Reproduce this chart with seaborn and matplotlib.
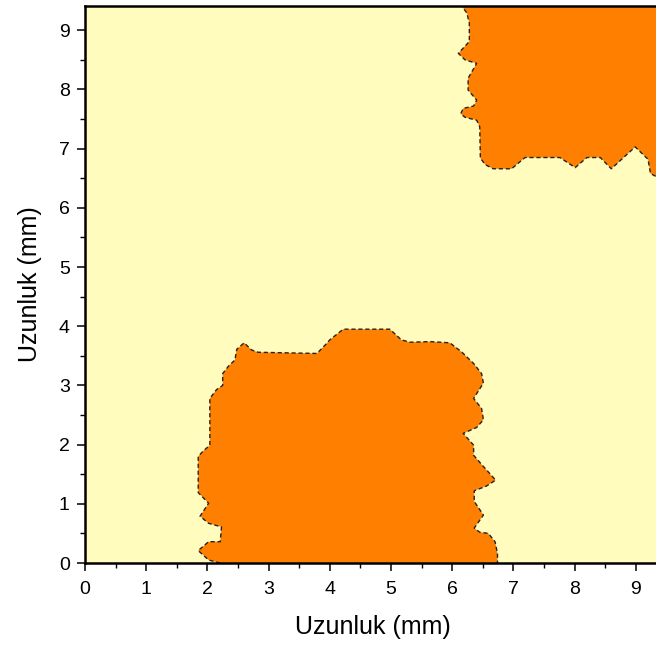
import numpy as np
import pandas as pd
import matplotlib
matplotlib.use("Agg")
import matplotlib.pyplot as plt
import seaborn as sns

# Boundary of the lower orange region (x, y in mm), from the bottom edge round to the bottom edge
low_x = [2.21, 2.02, 1.85, 2.02, 2.21, 2.23, 2.02, 1.88, 2.02, 1.85, 1.85, 1.93, 2.04, 2.04, 2.15,
         2.25, 2.25, 2.34, 2.45, 2.48, 2.60, 2.72, 2.83, 3.79, 3.95, 4.00, 4.22, 4.98, 5.17, 5.31,
         5.64, 5.96, 6.15, 6.35, 6.48, 6.51, 6.35, 6.48, 6.51, 6.40, 6.18, 6.35, 6.35, 6.51, 6.71,
         6.56, 6.36, 6.36, 6.51, 6.36, 6.45, 6.59, 6.70, 6.74, 6.74]
low_y = [0.00, 0.05, 0.21, 0.36, 0.36, 0.61, 0.67, 0.79, 1.01, 1.19, 1.80, 1.89, 1.99, 2.78, 2.93,
         3.00, 3.20, 3.32, 3.43, 3.61, 3.72, 3.60, 3.56, 3.54, 3.71, 3.77, 3.95, 3.95, 3.77, 3.73,
         3.74, 3.72, 3.57, 3.37, 3.20, 3.04, 2.78, 2.61, 2.42, 2.29, 2.19, 1.99, 1.82, 1.63, 1.40,
         1.30, 1.22, 1.04, 0.81, 0.59, 0.52, 0.50, 0.36, 0.16, 0.00]

# Boundary of the upper-right orange region (x, y in mm), from the top edge to the right edge
up_x = [6.13, 6.24, 6.28, 6.28, 6.10, 6.21, 6.40, 6.26, 6.26, 6.40, 6.35, 6.18, 6.14, 6.21, 6.40,
        6.45, 6.46, 6.54, 6.67, 6.97, 7.19, 7.76, 8.01, 8.20, 8.42, 8.60, 8.99, 9.20, 9.24, 9.33, 9.45]
up_y = [9.45, 9.29, 9.12, 8.81, 8.61, 8.50, 8.44, 8.19, 7.99, 7.82, 7.72, 7.68, 7.59, 7.53, 7.48,
        7.37, 6.84, 6.73, 6.66, 6.66, 6.85, 6.85, 6.68, 6.85, 6.85, 6.66, 7.03, 6.82, 6.58, 6.53, 6.50]

x_ticks = [0, 1, 2, 3, 4, 5, 6, 7, 8, 9]
y_ticks = [0, 1, 2, 3, 4, 5, 6, 7, 8, 9]
x_label = "Uzunluk (mm)"
y_label = "Uzunluk (mm)"

YELLOW = "#FFFCBE"
ORANGE = "#FF8000"

sns.set_theme(style="ticks")
plt.rcParams["font.family"] = ["Liberation Sans", "DejaVu Sans"]

fig = plt.figure(figsize=(6.56, 6.51), dpi=100)
ax = fig.add_axes([85 / 656, 1 - 563 / 651, (9.4 * 61.2) / 656, (563 - 6) / 651])
ax.set_facecolor(YELLOW)

# filled regions
ax.fill(low_x + [low_x[0]], low_y + [low_y[0]], color=ORANGE, lw=0, zorder=1)
ax.fill(up_x + [9.6, 9.6], up_y + [9.6, 9.6], color=ORANGE, lw=0, zorder=1)

# dashed contour boundaries
df_low = pd.DataFrame({"x": low_x, "y": low_y})
df_up = pd.DataFrame({"x": up_x, "y": up_y})
for d in (df_low, df_up):
    sns.lineplot(data=d, x="x", y="y", sort=False, estimator=None, ax=ax,
                 color="#222222", lw=1.0, linestyle=(0, (3, 2)), zorder=2)

ax.set_xlim(0, 9.4)
ax.set_ylim(0, 9.41)
ax.set_xticks(x_ticks)
ax.set_yticks(y_ticks)
ax.set_xticks(np.arange(0.5, 9.4, 1.0), minor=True)
ax.set_yticks(np.arange(0.5, 9.4, 1.0), minor=True)
ax.tick_params(axis="both", which="major", direction="out", length=6, width=1.1,
               labelsize=14, color="black", labelcolor="black")
ax.tick_params(axis="both", which="minor", direction="out", length=3.3, width=1.0, color="black")
ax.tick_params(axis="x", which="major", pad=7)
ax.tick_params(axis="y", which="major", pad=5)

for s in ax.spines.values():
    s.set_color("black")
    s.set_linewidth(1.8)

ax.set_xlabel(x_label, fontsize=18, color="black", labelpad=12)
ax.set_ylabel(y_label, fontsize=18, color="black", labelpad=12)

fig.savefig("out.png", dpi=100)
